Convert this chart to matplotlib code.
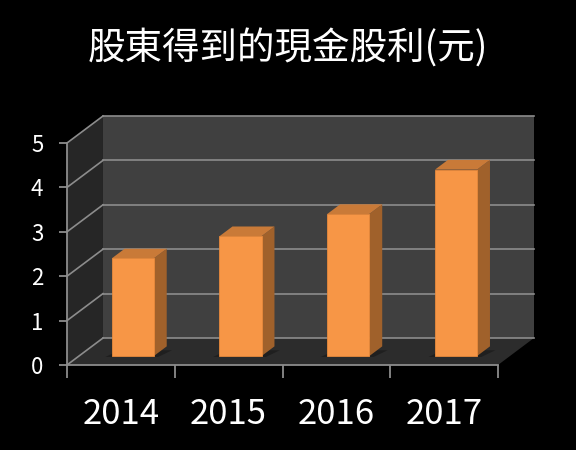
import matplotlib
matplotlib.use("Agg")
import matplotlib.pyplot as plt
from matplotlib.patches import Polygon

plt.rcParams["font.family"] = ["Noto Sans CJK TC", "DejaVu Sans"]

# data
years = ["2014", "2015", "2016", "2017"]
dividends = [2.2, 2.7, 3.2, 4.2]
y_ticks = [0, 1, 2, 3, 4, 5]
title = "股東得到的現金股利(元)"

# faux-3d layout (data units)
DX, DY = 0.334, 0.608          # wall depth
BAR_W = 0.39
BAR_POS = 0.33                 # bar depth position as fraction of wall depth
BAR_DEPTH = 0.36
WALL_BACK = "#404040"
WALL_SIDE = "#262626"
FLOOR = "#2c2c2c"
GRID = "#8c8c8c"
FRONT = "#F79646"
SIDE = "#A0612B"
TOP = "#C97A38"

W, H = 576, 450
px_cat, px_unit = 107.75, 44.4
x_left_px, y_zero_px = 67, 365

fig = plt.figure(figsize=(W / 100, H / 100), dpi=100, facecolor="black")
xmin, xmax = -0.5, 3.85
ymin, ymax = 0, 5.65
ax_w = (xmax - xmin) * px_cat
ax_h = (ymax - ymin) * px_unit
ax = fig.add_axes([x_left_px / W, 1 - y_zero_px / H, ax_w / W, ax_h / H])
ax.set_facecolor("none")
ax.set_xlim(xmin, xmax)
ax.set_ylim(ymin, ymax)
for s in ax.spines.values():
    s.set_visible(False)

n = len(years)
x0, x1 = -0.5, n - 0.5
top_v = max(y_ticks)

# walls and floor
ax.add_patch(Polygon([(x0 + DX, DY), (x1 + DX, DY), (x1 + DX, top_v + DY), (x0 + DX, top_v + DY)],
                     closed=True, facecolor=WALL_BACK, edgecolor="none", zorder=1))
ax.add_patch(Polygon([(x0, 0), (x0, top_v), (x0 + DX, top_v + DY), (x0 + DX, DY)],
                     closed=True, facecolor=WALL_SIDE, edgecolor="none", zorder=1))
ax.add_patch(Polygon([(x0, 0), (x1, 0), (x1 + DX, DY), (x0 + DX, DY)],
                     closed=True, facecolor=FLOOR, edgecolor="none", zorder=1))

for v in y_ticks:
    ax.plot([x0 + DX, x1 + DX], [v + DY, v + DY], color=GRID, lw=1.2, zorder=2)
    ax.plot([x0, x0 + DX], [v, v + DY], color=GRID, lw=1.2, zorder=2)

# front axes lines
ax.plot([x0, x0], [0, top_v], color=GRID, lw=1.3, zorder=3, clip_on=False)
ax.plot([x0, x1], [0, 0], color=GRID, lw=1.3, zorder=3, clip_on=False)

# bars
bx, by = BAR_POS * DX, BAR_POS * DY
dx, dy = BAR_DEPTH * DX, BAR_DEPTH * DY
for i, v in enumerate(dividends):
    left = i - BAR_W / 2 + bx
    right = left + BAR_W
    base = by
    top = by + v
    # shadow
    ax.add_patch(Polygon([(left - 0.06, base - 0.02), (right + 0.04, base - 0.02),
                          (right + dx + 0.05, base + dy * 0.6), (left + dx - 0.05, base + dy * 0.6)],
                         closed=True, facecolor="#1c1c1c", edgecolor="none", alpha=0.8, zorder=3))
    ax.add_patch(Polygon([(right, base), (right + dx, base + dy), (right + dx, top + dy), (right, top)],
                         closed=True, facecolor=SIDE, edgecolor="none", zorder=4))
    ax.add_patch(Polygon([(left, top), (right, top), (right + dx, top + dy), (left + dx, top + dy)],
                         closed=True, facecolor=TOP, edgecolor="none", zorder=4))
    ax.add_patch(Polygon([(left, base), (right, base), (right, top), (left, top)],
                         closed=True, facecolor=FRONT, edgecolor="#E88A3C", lw=0.6, zorder=5))

# ticks and labels
ax.set_yticks(y_ticks)
ax.set_yticklabels([str(t) for t in y_ticks], fontweight="medium")
ax.tick_params(axis="y", colors=GRID, length=6, width=1.3, pad=11, labelsize=16, labelcolor="white")
ax.set_xticks(range(n))
ax.set_xticklabels(years, fontweight="medium")
ax.set_xticks([x0 + k for k in range(n + 1)], minor=True)
ax.tick_params(axis="x", which="major", length=0, pad=23, labelsize=25, labelcolor="white")
ax.tick_params(axis="x", which="minor", colors=GRID, length=9, width=1.3)

fig.text(0.5, 1 - 49 / H, title, color="white", fontsize=27, fontweight="medium",
         ha="center", va="center")

fig.savefig("out.png", dpi=100, facecolor="black")
